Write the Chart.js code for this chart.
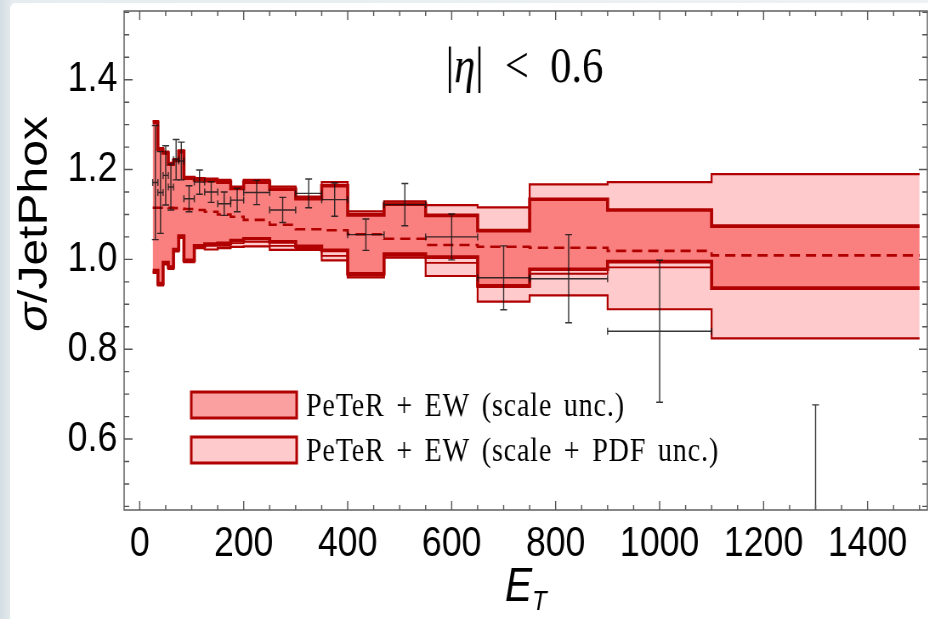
<!DOCTYPE html>
<html>
<head>
<meta charset="utf-8">
<script src="https://cdn.jsdelivr.net/npm/chart.js"></script>
<style>
  html, body { margin: 0; padding: 0; }
  body { width: 928px; height: 619px; position: relative; overflow: hidden;
         background: linear-gradient(90deg, #d3dde3 0px, #e6ecef 12px, #eef2f4 100%); }
  #panel { position: absolute; left: 10px; top: 3px; right: 0; bottom: 0; background: #fff; border-top-left-radius: 6px; }
  #wrap { position: absolute; left: 0; top: 0; transform-origin: 0 0; }
</style>
</head>
<body>
<div id="panel"></div>
<div id="wrap"><canvas id="myChart"></canvas></div>
<script>
// E_T bin edges and per-bin ratios to JetPhox
const edges = [25, 35, 45, 55, 65, 75, 85, 105, 125, 150, 175, 200, 250, 300, 350, 400, 470, 550, 650, 750, 900, 1100, 1500];
const central = [1.115, 1.115, 1.116, 1.115, 1.114, 1.113, 1.112, 1.110, 1.106, 1.100, 1.095, 1.088, 1.077, 1.067, 1.065, 1.056, 1.046, 1.032, 1.028, 1.026, 1.019, 1.009];
const scaleHi = [1.305, 1.245, 1.237, 1.212, 1.220, 1.240, 1.181, 1.177, 1.175, 1.172, 1.158, 1.172, 1.156, 1.135, 1.164, 1.099, 1.123, 1.098, 1.064, 1.134, 1.110, 1.074];
const scaleLo = [0.975, 0.946, 0.993, 0.983, 1.022, 1.052, 0.998, 1.030, 1.034, 1.036, 1.042, 1.046, 1.039, 1.029, 1.020, 0.968, 1.012, 1.005, 0.941, 0.978, 0.995, 0.936];
const innerLo = [0.972, 0.944, 0.991, 0.981, 1.020, 1.050, 0.996, 1.027, 1.030, 1.030, 1.036, 1.039, 1.030, 1.025, 1.008, 0.964, 1.008, 0.992, 0.938, 0.968, 0.982, 0.936];
const pdfHi = [1.308, 1.248, 1.240, 1.215, 1.223, 1.243, 1.184, 1.181, 1.180, 1.177, 1.162, 1.177, 1.162, 1.140, 1.172, 1.107, 1.129, 1.121, 1.116, 1.167, 1.172, 1.190];
const pdfLo = [0.970, 0.942, 0.989, 0.979, 1.018, 1.048, 0.994, 1.025, 1.022, 1.025, 1.028, 1.029, 1.021, 1.021, 0.998, 0.960, 1.004, 0.963, 0.906, 0.920, 0.889, 0.824];

// measured points (bin centres) with errors
const dataX = [30, 40, 50, 60, 70, 80, 95, 115, 137.5, 162.5, 187.5, 225, 275, 325, 375, 435, 510, 600, 700, 825, 1000, 1300];
const dataY = [1.171, 1.149, 1.187, 1.161, 1.222, 1.219, 1.135, 1.172, 1.150, 1.124, 1.132, 1.149, 1.110, 1.147, 1.133, 1.055, 1.122, 1.050, 0.959, 0.957, 0.840, 0.400];
const dataErr = [0.127, 0.091, 0.066, 0.051, 0.045, 0.042, 0.029, 0.027, 0.023, 0.026, 0.026, 0.027, 0.028, 0.032, 0.037, 0.035, 0.047, 0.051, 0.071, 0.098, 0.158, 0.276];

const xTicks = [0, 200, 400, 600, 800, 1000, 1200, 1400];
const yTicks = [0.6, 0.8, 1.0, 1.2, 1.4];
const legendLabels = ['PeTeR + EW (scale unc.)', 'PeTeR + EW (scale + PDF unc.)'];

const S = 0.85;               // figure is shown compressed horizontally
const W = Math.round(928 / S), H = 619;

const DARK = 'rgb(176,0,0)';
const MID = 'rgb(250,128,128)';
const LIGHT = 'rgb(255,202,204)';
const SANS = "'Liberation Sans', Arial, sans-serif";
const SERIF = "'Liberation Serif', 'Times New Roman', serif";

const canvas = document.getElementById('myChart');
canvas.width = W; canvas.height = H;
document.getElementById('wrap').style.transform = `scaleX(${S})`;

const stepPts = arr => edges.map((e, i) => ({x: e, y: arr[Math.min(i, arr.length - 1)]}));
const band = (label, arr, width, extra) => Object.assign({
  label, data: stepPts(arr), stepped: true, borderColor: DARK, borderWidth: width,
  pointRadius: 0, fill: false, borderCapStyle: 'butt'
}, extra || {});

function drawRuns(ctx, runs, cx, baseline) {
  let total = 0;
  runs.forEach(r => { ctx.font = r.font; r.w = ctx.measureText(r.text).width; total += r.w; });
  let x = cx - total / 2;
  runs.forEach(r => { ctx.font = r.font; ctx.fillText(r.text, x, baseline + (r.dy || 0)); x += r.w; });
}

const decorations = {
  id: 'decorations',
  afterDatasetsDraw(chart) {
    const {ctx, chartArea: a, scales: {x, y}} = chart;
    ctx.save();
    ctx.beginPath();
    ctx.rect(a.left, a.top, a.right - a.left, a.bottom - a.top);
    ctx.clip();
    // error bars
    ctx.strokeStyle = 'rgba(20,20,20,0.85)';
    ctx.lineWidth = 1.4;
    dataX.forEach((v, i) => {
      const px = x.getPixelForValue(v);
      const py = y.getPixelForValue(dataY[i]);
      const top = y.getPixelForValue(dataY[i] + dataErr[i]);
      const bot = y.getPixelForValue(dataY[i] - dataErr[i]);
      const l = x.getPixelForValue(edges[i]);
      const r = x.getPixelForValue(edges[i + 1]);
      ctx.beginPath();
      ctx.moveTo(px, top); ctx.lineTo(px, bot);
      ctx.moveTo(px - 4, top); ctx.lineTo(px + 4, top);
      ctx.moveTo(px - 4, bot); ctx.lineTo(px + 4, bot);
      ctx.moveTo(l, py); ctx.lineTo(r, py);
      ctx.moveTo(l, py - 3.5); ctx.lineTo(l, py + 3.5);
      ctx.moveTo(r, py - 3.5); ctx.lineTo(r, py + 3.5);
      ctx.stroke();
    });
    ctx.restore();

    // frame with inward ticks on all four sides
    ctx.save();
    ctx.strokeStyle = '#555';
    ctx.lineWidth = 1.4;
    ctx.strokeRect(a.left, a.top, a.right - a.left, a.bottom - a.top);
    ctx.beginPath();
    for (let v = 0; v <= 1500; v += 50) {
      const px = x.getPixelForValue(v);
      const len = v % 200 === 0 ? 9 : 5;
      ctx.moveTo(px, a.bottom); ctx.lineTo(px, a.bottom - len);
      ctx.moveTo(px, a.top); ctx.lineTo(px, a.top + len);
    }
    for (let k = 9; k <= 31; k++) {
      const py = y.getPixelForValue(k * 0.05);
      const len = k % 4 === 0 ? 10 : 6;
      ctx.moveTo(a.left, py); ctx.lineTo(a.left + len, py);
      ctx.moveTo(a.right, py); ctx.lineTo(a.right - len, py);
    }
    ctx.stroke();
    ctx.restore();

    // panel label and legend
    ctx.save();
    ctx.fillStyle = '#000';
    ctx.textAlign = 'left';
    ctx.textBaseline = 'alphabetic';
    drawRuns(ctx, [
      {text: '|', font: `50px ${SERIF}`},
      {text: 'η', font: `italic 50px ${SERIF}`},
      {text: '|  <  0.6', font: `50px ${SERIF}`}
    ], 617, 82);

    legendLabels.forEach((t, i) => {
      const top = 392 + i * 45;
      ctx.fillStyle = i === 0 ? 'rgb(250,160,160)' : LIGHT;
      ctx.fillRect(225, top, 124, 26);
      ctx.strokeStyle = DARK;
      ctx.lineWidth = 3;
      ctx.strokeRect(225, top, 124, 26);
      ctx.fillStyle = '#000';
      ctx.font = `33px ${SERIF}`;
      ctx.letterSpacing = '1px';
      ctx.wordSpacing = '4.5px';
      ctx.fillText(t, 360, top + 24);
      ctx.letterSpacing = '0px';
      ctx.wordSpacing = '0px';
    });
    ctx.restore();
  },
  afterDraw(chart) {
    const {ctx, chartArea: a} = chart;
    ctx.save();
    ctx.fillStyle = '#000';
    ctx.textAlign = 'left';
    ctx.textBaseline = 'alphabetic';
    drawRuns(ctx, [
      {text: 'E', font: `italic 48px ${SANS}`},
      {text: 'T', font: `italic 28px ${SANS}`, dy: 9}
    ], (a.left + a.right) / 2, 601);
    ctx.translate(38, 224);
    ctx.rotate(-Math.PI / 2);
    drawRuns(ctx, [
      {text: 'σ', font: `italic 48px ${SANS}`},
      {text: '/JetPhox', font: `48px ${SANS}`}
    ], 0, 17);
    ctx.restore();
  }
};

new Chart(canvas, {
  type: 'line',
  data: {
    datasets: [
      {label: 'data', type: 'scatter', data: dataX.map((v, i) => ({x: v, y: dataY[i]})), pointRadius: 0, showLine: false},
      band('central', central, 2.6, {borderDash: [12, 7]}),
      band('scaleHi', scaleHi, 3.6),
      band('scaleLo', scaleLo, 3.6, {fill: '-1', backgroundColor: MID}),
      band('innerLo', innerLo, 1.8),
      band('pdfHi', pdfHi, 2.2),
      band('pdfLo', pdfLo, 2.2, {fill: '-1', backgroundColor: LIGHT})
    ]
  },
  options: {
    responsive: false,
    animation: false,
    devicePixelRatio: 1,
    layout: {padding: {top: 11, right: 1, left: 0, bottom: 0}},
    plugins: {legend: {display: false}, tooltip: {enabled: false}},
    scales: {
      x: {
        type: 'linear', min: -30, max: 1515,
        grid: {display: false, drawTicks: false}, border: {display: false},
        afterBuildTicks: s => { s.ticks = xTicks.map(v => ({value: v})); },
        afterFit: s => { s.height = 109; s.paddingLeft = 0; s.paddingRight = 0; },
        ticks: {font: {family: SANS, size: 42}, color: '#000', padding: 9, maxRotation: 0, autoSkip: false, callback: v => String(v)}
      },
      y: {
        type: 'linear', min: 0.442, max: 1.553,
        grid: {display: false, drawTicks: false}, border: {display: false},
        afterBuildTicks: s => { s.ticks = yTicks.map(v => ({value: v})); },
        afterFit: s => { s.width = 146; s.paddingTop = 0; s.paddingBottom = 0; },
        ticks: {font: {family: SANS, size: 42}, color: '#000', padding: 8, autoSkip: false, callback: v => v.toFixed(1)}
      }
    }
  },
  plugins: [decorations]
});
</script>
</body>
</html>
